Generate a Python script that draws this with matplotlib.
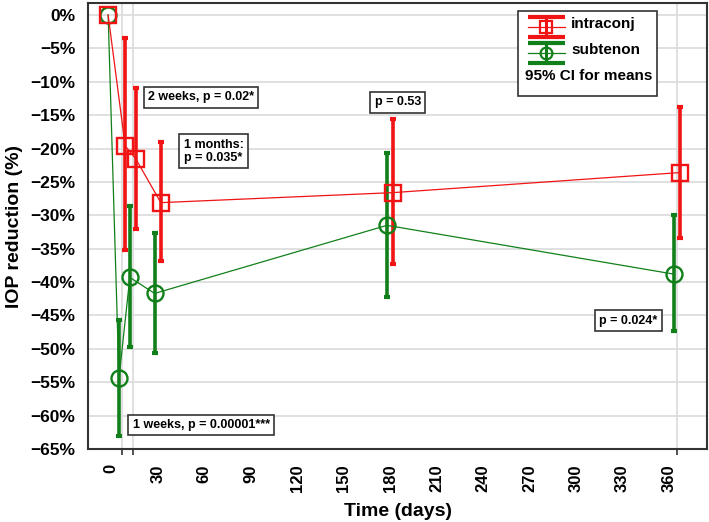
import matplotlib.pyplot as plt
from matplotlib.patches import Rectangle
from matplotlib.ticker import FixedLocator, FuncFormatter

plt.rcParams['font.family'] = ['Liberation Sans', 'DejaVu Sans']
plt.rcParams['font.weight'] = 'bold'

# time points (days) and the slightly shifted plotting positions of each group
GRID_DAYS = [7, 14, 30, 180, 365]
INTRA_X = [-2, 9, 16, 32, 182, 367]
SUB_X = [-2, 5, 12, 28, 178, 363]

# IOP reduction (%) with 95% CI for means
INTRA_MEAN = [0, -19.6, -21.6, -28.1, -26.6, -23.6]
INTRA_HI = [0, -3.4, -10.9, -19.0, -15.6, -13.8]
INTRA_LO = [0, -35.2, -32.0, -36.9, -37.3, -33.4]
SUB_MEAN = [0, -54.4, -39.3, -41.7, -31.5, -38.8]
SUB_HI = [0, -45.7, -28.6, -32.7, -20.6, -30.0]
SUB_LO = [0, -63.1, -49.7, -50.6, -42.3, -47.4]

NOTES = [
    ("2 weeks, p = 0.02*", 58, -12.3),
    ("1 months:\np = 0.035*", 66, -20.4),
    ("p = 0.53", 185, -13.1),
    ("p = 0.024*", 334, -45.8),
    ("1 weeks, p = 0.00001***", 58, -61.4),
]

RED = "#f01414"
GREEN = "#12801a"

fig = plt.figure(figsize=(7.09, 5.22), dpi=100)
ax = fig.add_axes([88 / 709, 73 / 522, 619 / 709, 446 / 522])


def draw_group(x, mean, lo, hi, color, marker, ms):
    yerr = [[m - l for m, l in zip(mean, lo)], [h - m for m, h in zip(mean, hi)]]
    ax.errorbar(x[1:], mean[1:], yerr=[yerr[0][1:], yerr[1][1:]], fmt="none",
                ecolor=color, elinewidth=2.6, capsize=2.2, capthick=3, zorder=3)
    ax.plot(x, mean, color=color, lw=0.9, marker=marker, ms=ms, mfc="none",
            mec=color, mew=1.7, zorder=4)


draw_group(SUB_X, SUB_MEAN, SUB_LO, SUB_HI, GREEN, "o", 11.5)
draw_group(INTRA_X, INTRA_MEAN, INTRA_LO, INTRA_HI, RED, "s", 12)

ax.set_xlim(-15, 384.6)
ax.set_ylim(-65, 1.8)

ax.xaxis.set_major_locator(FixedLocator(list(range(0, 361, 30))))
ax.xaxis.set_minor_locator(FixedLocator(GRID_DAYS))
ax.tick_params(axis="x", which="major", length=0, pad=11, labelsize=12, labelrotation=90)
ax.tick_params(axis="x", which="minor", length=4, width=1.2, color="#333333")
ax.yaxis.set_major_locator(FixedLocator(list(range(-65, 1, 5))))
ax.yaxis.set_major_formatter(FuncFormatter(lambda v, p: f"{v:.0f}%".replace("-", "\u2212")))
ax.tick_params(axis="y", length=0, pad=9, labelsize=12.5)
for lab in ax.get_xticklabels() + ax.get_yticklabels():
    lab.set_fontweight("bold")

ax.grid(axis="y", which="major", color="#dddddd", lw=1.3)
ax.grid(axis="x", which="minor", color="#dddddd", lw=1.3)
ax.set_axisbelow(True)
for sp in ax.spines.values():
    sp.set_color("#333333")
    sp.set_linewidth(1.5)

ax.set_xlabel("Time (days)", fontsize=14, fontweight="bold", labelpad=8)
ax.set_ylabel("IOP reduction (%)", fontsize=14, fontweight="bold")
ax.yaxis.set_label_coords(-0.105, 0.5)

for text, x, y in NOTES:
    ax.text(x, y, text, ha="center", va="center", multialignment="center",
            fontsize=9, fontweight="bold", linespacing=1.15, zorder=5,
            bbox=dict(boxstyle="square,pad=0.35", fc="white", ec="#333333", lw=1.2))


# legend drawn by hand (Statistica-style symbols)
def fx(px):
    return (px - 88) / 619


def fy(py):
    return 1 - (py - 3) / 446


ax.add_patch(Rectangle((fx(518), fy(96)), fx(657) - fx(518), fy(11) - fy(96),
                       transform=ax.transAxes, fc="white", ec="#333333", lw=1.2, zorder=6))
for color, marker, ms, cy, label in [(RED, "s", 8.5, 27, "intraconj"),
                                     (GREEN, "o", 8.5, 53, "subtenon")]:
    kw = dict(transform=ax.transAxes, color=color, zorder=7, clip_on=False)
    ax.plot([fx(528), fx(565)], [fy(cy), fy(cy)], lw=0.9, **kw)
    ax.plot([fx(528), fx(565)], [fy(cy - 10), fy(cy - 10)], lw=3, solid_capstyle="butt", **kw)
    ax.plot([fx(528), fx(565)], [fy(cy + 10), fy(cy + 10)], lw=3, solid_capstyle="butt", **kw)
    ax.plot([fx(546), fx(546)], [fy(cy - 10), fy(cy + 10)], lw=2.2, **kw)
    ax.plot([fx(546)], [fy(cy)], marker=marker, ms=ms, mfc="none", mec=color, mew=1.6,
            transform=ax.transAxes, zorder=8, clip_on=False)
    ax.text(fx(571), fy(cy - 3), label, transform=ax.transAxes, ha="left", va="center",
            fontsize=11, fontweight="bold", zorder=8)
ax.text(fx(525), fy(76), "95% CI for means", transform=ax.transAxes, ha="left",
        va="center", fontsize=11, fontweight="bold", zorder=8)

fig.savefig("out.png", dpi=100)
